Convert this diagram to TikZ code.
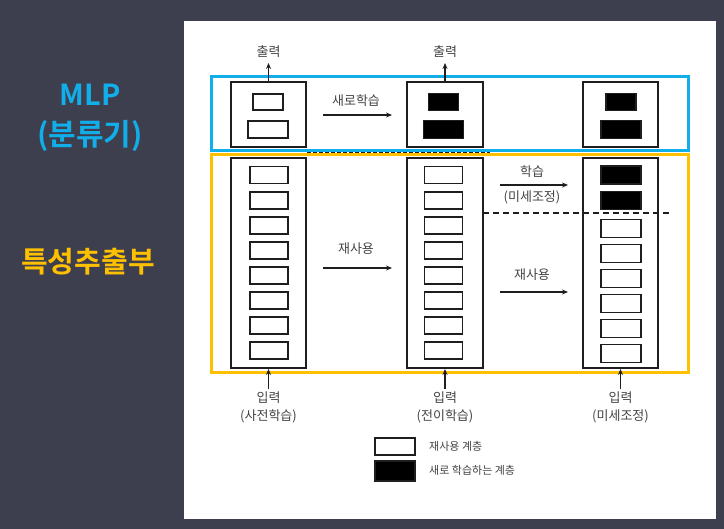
\documentclass[tikz,border=0pt]{standalone}
\usepackage{fontspec}
\setmainfont{Noto Sans CJK KR}
\newfontfamily\krbold{Noto Sans CJK KR}[BoldFont=* Bold]
\usetikzlibrary{arrows.meta}
\definecolor{bgdark}{HTML}{3D3F4F}
\definecolor{mlpblue}{HTML}{12AEEA}
\definecolor{featyellow}{HTML}{FFC000}
\definecolor{ink}{HTML}{1E1E1E}
\definecolor{txt}{HTML}{444444}
\tikzset{
  outerbox/.style={draw=ink, line width=2pt, fill=none, inner sep=0pt},
  wlayer/.style={draw=ink, line width=1.9pt, fill=white, minimum width=38pt, minimum height=17pt, inner sep=0pt},
  blayer/.style={draw=ink, line width=1.2pt, fill=black, minimum width=38pt, minimum height=17pt, inner sep=0pt},
  lbl/.style={text=txt, font=\fontsize{13}{15}\selectfont, inner sep=1pt, align=center},
  flow/.style={draw=ink, line width=1.2pt, -{Stealth[length=6pt,width=5pt]}},
  frame/.style={line width=3pt, inner sep=0pt, fill=none},
}
\begin{document}
\begin{tikzpicture}[x=1pt,y=-1pt]
\fill[bgdark] (0,0) rectangle (724,529);
\fill[white] (184,21) rectangle (716,519);
\useasboundingbox (0,0) rectangle (724,529);

% left labels
\node[text=mlpblue, font=\krbold\bfseries\fontsize{29}{34}\selectfont] (mlpA) at (90,95) {MLP};
\node[text=mlpblue, font=\krbold\bfseries\fontsize{30}{34}\selectfont] (mlpB) at (90,136) {(분류기)};
\node[text=featyellow, font=\krbold\bfseries\fontsize{29}{34}\selectfont] (feat) at (88,262) {특성추출부};

% frames
\node[frame, draw=mlpblue, minimum width=477pt, minimum height=74pt] (mlpframe) at (449.5,114) {};
\node[frame, draw=featyellow, minimum width=477pt, minimum height=218pt] (featframe) at (449.5,264) {};
\coordinate (dashA) at (307,152.5);
\coordinate (dashB) at (490,152.5);
\draw[ink, line width=1.5pt, dash pattern=on 4pt off 2pt] (dashA) -- (dashB);

% top (MLP) boxes
\node[outerbox, minimum width=75pt, minimum height=65pt] (t1) at (268.5,114.5) {};
\node[outerbox, minimum width=76pt, minimum height=65pt] (t2) at (445,114.5) {};
\node[outerbox, minimum width=75pt, minimum height=65pt] (t3) at (620.5,114.5) {};
\node[wlayer, minimum width=30pt, minimum height=16pt] (t1a) at (268,102) {};
\node[wlayer, minimum width=40pt, minimum height=17pt] (t1b) at (268,129.5) {};
\node[blayer, minimum width=30pt, minimum height=17pt] (t2a) at (443.5,102) {};
\node[blayer, minimum width=40pt, minimum height=18pt] (t2b) at (443.5,129.5) {};
\node[blayer, minimum width=30pt, minimum height=17pt] (t3a) at (621,102) {};
\node[blayer, minimum width=40pt, minimum height=18pt] (t3b) at (621,129.5) {};

% bottom (feature) boxes
\node[outerbox, minimum width=75pt, minimum height=210pt] (b1) at (268.5,263) {};
\node[outerbox, minimum width=76pt, minimum height=210pt] (b2) at (445,263) {};
\node[outerbox, minimum width=75pt, minimum height=210pt] (b3) at (620.5,263) {};
\foreach \i in {0,...,7} {
  \node[wlayer] (b1l\i) at (269,175+25.1*\i) {};
  \node[wlayer] (b2l\i) at (443.5,175+25.1*\i) {};
}
\node[blayer, minimum width=40pt, minimum height=18pt] (b3l0) at (621,175) {};
\node[blayer, minimum width=40pt, minimum height=18pt] (b3l1) at (621,200.5) {};
\foreach \i in {2,...,7} {
  \node[wlayer, minimum width=40pt, minimum height=18pt] (b3l\i) at (621,228.5+25*\i-50) {};
}
\coordinate (cutA) at (483,213);
\coordinate (cutB) at (669,213);
\draw[ink, line width=1.4pt, dash pattern=on 6pt off 4pt] (cutA) -- (cutB);

% outputs
\node[lbl] (out1) at (268.5,52) {출력};
\node[lbl] (out2) at (445,52) {출력};
\coordinate (o1) at (268.5,63);
\coordinate (o2) at (445,63);
\draw[flow] (t1.north) -- (o1);
\draw[flow] (t2.north) -- (o2);

% inputs
\node[lbl] (in1) at (268.5,407) {입력\\[3pt](사전학습)};
\node[lbl] (in2) at (445,407) {입력\\[3pt](전이학습)};
\node[lbl] (in3) at (620.5,407) {입력\\[3pt](미세조정)};
\coordinate (i1) at (268.5,389);
\coordinate (i2) at (445,389);
\coordinate (i3) at (620.5,389);
\draw[flow] (i1) -- (b1.south);
\draw[flow] (i2) -- (b2.south);
\draw[flow] (i3) -- (b3.south);

% transfer arrows
\coordinate (a1s) at (323,115); \coordinate (a1e) at (392,115);
\draw[flow] (a1s) -- (a1e);
\node[lbl] (a1l) at (356,101) {새로학습};
\coordinate (a2s) at (323,268); \coordinate (a2e) at (392,268);
\draw[flow] (a2s) -- (a2e);
\node[lbl] (a2l) at (356,249) {재사용};
\coordinate (a3s) at (500,185); \coordinate (a3e) at (568,185);
\draw[flow] (a3s) -- (a3e);
\node[lbl] (a3l) at (532,172) {학습};
\node[lbl] (a3m) at (532,197.5) {(미세조정)};
\coordinate (a4s) at (500,292); \coordinate (a4e) at (568,292);
\draw[flow] (a4s) -- (a4e);
\node[lbl] (a4l) at (532,275) {재사용};

% legend
\node[wlayer, minimum width=40pt, minimum height=17pt] (legw) at (395,446.5) {};
\node[blayer, minimum width=40pt, minimum height=20pt] (legb) at (395,471) {};
\node[lbl, anchor=west, font=\fontsize{11}{13}\selectfont] (legwt) at (428,446) {재사용 계층};
\node[lbl, anchor=west, font=\fontsize{11}{13}\selectfont] (legbt) at (428,470) {새로 학습하는 계층};
\end{tikzpicture}
\end{document}
